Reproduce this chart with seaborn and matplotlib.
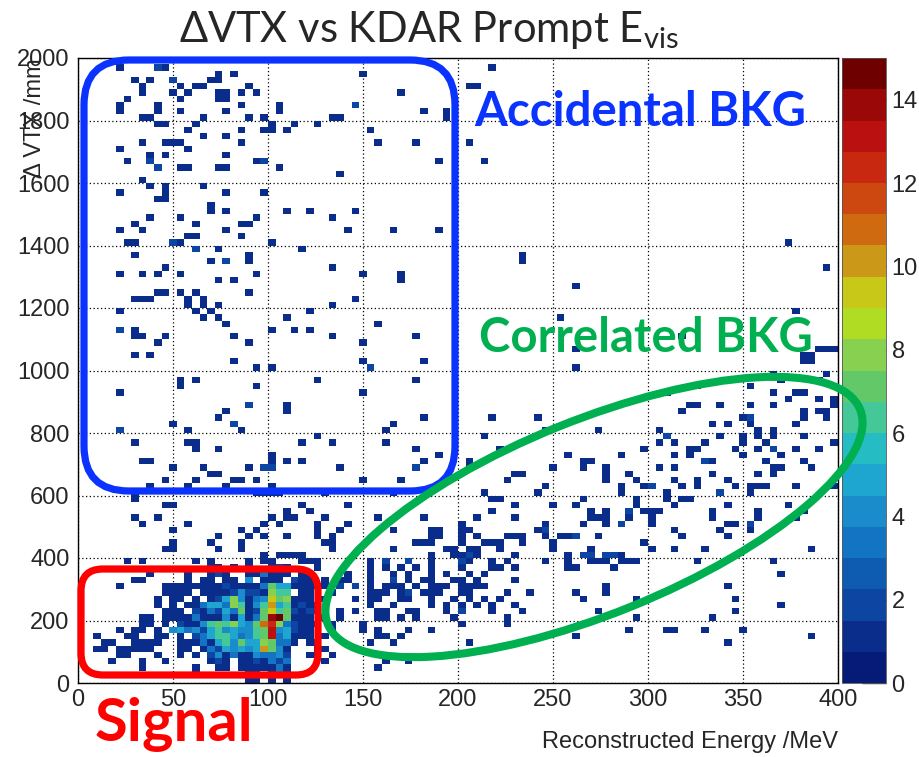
import matplotlib
matplotlib.use("Agg")
import matplotlib.pyplot as plt
from matplotlib.colors import ListedColormap
from matplotlib.patches import FancyBboxPatch, Ellipse
from matplotlib.transforms import IdentityTransform
from matplotlib.ticker import MultipleLocator, NullLocator
import pandas as pd
import seaborn as sns

# ---------------------------------------------------------------------------
# Data: bin centres (4 MeV x 20 mm bins)
# sparse rows: dVTX bin centre -> energy bin centres (one entry = one event)
accidental_rows = {
    1990: [182],
    1970: [22, 42, 42, 46, 218],
    1950: [74, 82, 150],
    1930: [30, 38, 50, 50, 70, 74],
    1910: [34, 54, 62, 66, 90, 206, 210],
    1890: [34, 50, 58, 74, 78, 86, 94, 170],
    1870: [26, 54, 74, 78],
    1850: [22, 42, 86, 106, 146, 146],
    1830: [22, 42, 54, 78, 106, 182, 194],
    1810: [34, 38, 66, 90, 98, 134, 138, 194],
    1790: [42, 46, 62, 102, 114, 126],
    1770: [58, 86, 98, 102, 110, 154],
    1750: [66, 78],
    1730: [34, 46, 50, 54, 86, 158, 178, 206],
    1710: [22, 58],
    1690: [38, 46, 78],
    1670: [26, 38, 38, 94, 98, 98, 190, 214],
    1650: [42, 42, 54, 58, 74, 78, 106],
    1630: [138],
    1610: [34],
    1590: [38, 46, 66],
    1570: [22, 46, 78, 98],
    1550: [42, 46],
    1530: [70],
    1510: [70, 78, 110, 122, 146],
    1490: [38, 54, 94, 134],
    1470: [30, 62, 86, 90],
    1450: [22, 34, 78, 142, 166, 190],
    1430: [58, 62, 86],
    1410: [26, 30, 50, 50, 54, 102, 374],
    1390: [62, 62, 74, 118],
    1370: [30, 90, 234],
    1350: [70, 78, 78, 90, 234],
    1330: [46, 134, 394],
    1310: [22, 34, 42, 54, 94, 150, 170],
    1290: [74, 82, 170],
    1270: [262],
    1250: [42, 46, 54, 62, 90],
    1230: [30, 34, 38, 58, 66, 146],
    1210: [58, 66, 74, 134],
    1190: [22, 62, 70, 122, 378],
    1170: [66, 74, 110, 254],
    1150: [78, 158],
    1130: [22, 22, 30, 102, 114, 122],
    1110: [30, 34, 46, 82, 134, 178, 318],
    1090: [42, 90, 150],
    1070: [262, 390, 394, 398],
    1050: [30, 38, 382, 386],
    1030: [82, 150, 182, 382, 386],
    1010: [94, 102, 154, 154, 262],
    990: [366, 394],
    970: [54, 62, 126, 178, 370, 390],
    950: [54, 94, 326, 354],
    930: [22, 150, 310, 366, 378, 382],
    910: [374, 390, 398],
    890: [90, 90, 110, 322, 326, 338, 354, 366, 398],
    870: [78, 110, 318, 382, 390, 394],
    850: [74, 182, 218, 242, 350, 354, 354, 382, 394],
    830: [50, 82, 82, 166, 334, 342, 354, 378],
    810: [22, 22, 58, 86, 162, 246, 274, 306, 358, 366],
    790: [126, 214, 310, 310, 338, 350, 358, 366, 382],
    770: [30, 58, 62, 118, 134, 162, 306, 314, 330, 350, 362, 398],
    750: [62, 74, 178, 222, 298, 322, 326, 346, 358, 366, 366, 378, 390],
    730: [102, 190, 258, 286, 314, 322, 350, 370],
    710: [34, 38, 102, 110, 118, 182, 206, 266, 270, 330, 330, 334, 362, 382],
    690: [50, 66, 90, 98, 98, 102, 102, 138, 178, 178, 206, 250, 266, 278,
          306, 314, 366, 370, 386],
    670: [70, 74, 230, 234, 278, 290, 334, 358, 366],
    650: [46, 62, 82, 86, 94, 150, 170, 226, 278, 294, 314, 326, 342],
    630: [38, 58, 78, 102, 190, 246, 286, 298, 302, 302, 318, 326, 346, 354,
          358, 362, 378, 398],
    610: [30, 94, 98, 102, 106, 130, 166, 214, 242, 286, 310, 338, 338, 354],
}

correlated_rows = {
    590: [30, 218, 222, 266, 294, 310, 318, 322],
    570: [46, 50, 118, 142, 230, 250, 262, 294, 314, 342, 374],
    550: [110, 122, 218, 270, 278, 290, 290, 298, 302, 306, 334, 358, 382],
    530: [30, 42, 102, 110, 114, 130, 158, 182, 210, 230, 270, 274, 278,
          290, 302, 334, 358, 378],
    510: [34, 58, 98, 106, 126, 142, 202, 246, 266, 278, 286, 286, 302, 342,
          346, 354, 354],
    490: [50, 86, 94, 126, 138, 166, 186, 190, 202, 206, 242, 246, 246, 314,
          338, 354],
    470: [74, 90, 98, 110, 126, 134, 186, 190, 202, 210, 226, 230, 234, 246,
          254, 258, 262, 262, 274, 318, 342],
    450: [50, 70, 86, 130, 134, 178, 182, 186, 202, 214, 218, 222, 234, 250,
          298],
    430: [46, 50, 74, 86, 134, 166, 194, 198, 206, 210, 222, 250, 270, 302,
          314, 330, 386],
    410: [98, 106, 110, 114, 118, 186, 198, 202, 206, 206, 210, 230, 258,
          266, 266, 270, 270, 278, 278, 282, 282, 286],
    390: [126, 154, 162, 162, 174, 174, 186, 202, 202, 206, 218, 226, 246,
          258, 270, 274, 278, 286, 290, 294, 326, 366],
    370: [126, 154, 162, 170, 178, 186, 202, 218, 222, 230, 258, 262, 282],
    350: [142, 154, 166, 174, 186, 194, 206, 214, 370],
    330: [130, 138, 142, 154, 166, 166, 174, 182, 186, 198, 202, 210, 230],
    310: [126, 130, 138, 138, 146, 146, 154, 162, 166, 170, 178, 186, 190,
          194, 202, 206, 210, 214, 278, 342],
    290: [134, 154, 158, 162, 170, 174, 174, 182, 186, 190, 202, 206, 226,
          238, 262, 278],
    270: [130, 146, 154, 158, 170, 174, 186, 198, 206, 214, 222, 266, 294,
          346],
    250: [126, 154, 166, 186, 194, 202, 210, 218, 230, 370],
    230: [126, 138, 146, 158, 162, 174, 178, 194, 202, 202, 218, 234, 274,
          346],
    210: [130, 138, 158, 162, 170, 178, 198, 226, 294, 334],
    190: [126, 134, 150, 202, 226],
    170: [134, 150, 158, 174, 186, 290, 310, 314, 330, 350],
    150: [130, 158, 162, 170, 262, 386],
    130: [126, 154, 166, 206, 342],
    110: [126, 130],
    90: [126, 134],
    70: [130, 162, 174],
    50: [158],
}

# signal cluster: dVTX bin centre -> {energy bin centre: entries}
signal_rows = {
    390: {26: 1, 34: 1, 62: 1, 70: 1, 90: 1, 98: 1, 102: 1, 118: 1, 122: 1},
    370: {70: 1, 74: 1, 82: 1, 90: 1, 102: 1, 106: 2, 110: 1},
    350: {38: 1, 58: 1, 70: 1, 74: 2, 78: 1, 90: 1, 94: 1, 98: 3, 102: 1,
          106: 1, 110: 1, 118: 1, 122: 1},
    330: {30: 1, 34: 1, 58: 1, 66: 1, 70: 1, 78: 1, 82: 1, 90: 4, 98: 1,
          102: 1, 106: 1, 114: 2, 118: 1, 122: 1},
    310: {22: 1, 46: 1, 50: 1, 54: 1, 58: 1, 62: 1, 66: 1, 70: 1, 74: 1,
          78: 2, 82: 1, 86: 1, 90: 1, 94: 1, 98: 3, 102: 7, 106: 5, 110: 5,
          114: 1, 118: 1, 122: 1},
    290: {46: 1, 50: 1, 54: 1, 58: 1, 66: 1, 70: 1, 74: 1, 78: 1, 82: 2,
          86: 4, 90: 2, 94: 2, 98: 1, 102: 8, 106: 6, 110: 6, 118: 1, 122: 1},
    270: {42: 1, 50: 1, 54: 1, 62: 1, 70: 1, 74: 2, 78: 5, 82: 8, 86: 4,
          90: 1, 94: 3, 98: 4, 102: 9, 106: 7, 110: 8, 114: 1, 118: 1, 122: 1},
    250: {42: 1, 50: 1, 58: 1, 62: 1, 66: 3, 70: 5, 74: 5, 78: 3, 82: 8,
          86: 6, 90: 1, 94: 4, 98: 6, 102: 10, 106: 5, 110: 6, 114: 1,
          118: 2, 122: 1},
    230: {46: 1, 50: 1, 54: 1, 62: 2, 66: 1, 70: 3, 74: 2, 78: 5, 82: 3,
          86: 7, 90: 1, 94: 2, 98: 7, 102: 9, 106: 6, 110: 7, 114: 2,
          118: 1, 122: 2},
    210: {34: 1, 38: 1, 46: 1, 50: 1, 54: 1, 58: 1, 62: 3, 66: 1, 70: 1,
          74: 1, 78: 4, 82: 1, 86: 5, 90: 1, 94: 3, 98: 7, 102: 14, 106: 15,
          110: 7, 114: 1, 118: 1, 122: 1},
    190: {34: 1, 38: 1, 46: 1, 54: 2, 58: 1, 62: 1, 66: 4, 70: 6, 74: 7,
          78: 6, 82: 8, 86: 5, 90: 4, 94: 7, 98: 11, 102: 12, 106: 8, 110: 3,
          114: 2, 118: 1, 122: 1},
    170: {22: 1, 30: 1, 34: 1, 42: 1, 50: 4, 54: 5, 58: 3, 62: 4, 66: 2,
          70: 5, 74: 6, 78: 4, 82: 5, 86: 4, 90: 4, 94: 6, 98: 7, 102: 13,
          106: 4, 110: 5, 114: 2, 118: 1, 122: 1},
    150: {10: 1, 26: 1, 30: 1, 42: 1, 46: 1, 54: 1, 62: 2, 66: 3, 70: 5,
          74: 6, 78: 6, 82: 5, 86: 3, 90: 4, 94: 6, 98: 7, 102: 13, 106: 3,
          110: 5, 114: 1, 118: 1, 122: 1},
    130: {14: 1, 18: 1, 30: 1, 34: 1, 38: 1, 42: 1, 54: 1, 58: 1, 62: 1,
          66: 3, 70: 1, 74: 5, 78: 6, 82: 4, 86: 7, 90: 5, 94: 5, 98: 8,
          102: 7, 106: 3, 110: 3, 114: 1, 122: 1},
    110: {10: 1, 14: 1, 22: 1, 26: 1, 30: 1, 34: 1, 38: 1, 54: 1, 58: 1,
          66: 1, 70: 3, 74: 2, 78: 5, 82: 4, 86: 5, 90: 4, 94: 5, 98: 10,
          102: 7, 106: 4, 110: 1},
    90: {22: 1, 26: 1, 42: 1, 54: 1, 62: 1, 70: 2, 74: 4, 78: 1, 82: 3,
         86: 1, 90: 1, 94: 4, 98: 3, 102: 3, 106: 4, 110: 2, 122: 1},
    70: {18: 1, 34: 1, 46: 1, 70: 1, 74: 2, 78: 1, 86: 1, 90: 1, 94: 2,
         98: 1, 102: 3, 106: 2, 110: 3},
    50: {34: 1, 62: 1, 74: 1, 78: 1, 86: 1, 90: 1, 94: 1, 98: 1, 102: 1,
         106: 3, 110: 1},
    30: {62: 1, 90: 1, 94: 1, 102: 1, 106: 3, 110: 1},
    10: {90: 1, 94: 1, 102: 1, 110: 1},
}

# colour palette of the z axis (20 contour levels from 0 to 15)
palette_colors = ["#061a78", "#0a2c8a", "#0c46a2", "#0e5cb2", "#1274c2",
                  "#1a8ccc", "#1ea6d0", "#26bcc4", "#44c898", "#62c868",
                  "#88d050", "#b0dc24", "#c8c818", "#cc9818", "#d06a10",
                  "#cc4810", "#c82810", "#bb1010", "#9a0808", "#6e0000"]
z_ticks = [0, 2, 4, 6, 8, 10, 12, 14]

# ---------------------------------------------------------------------------
records = []
for d, es in {**accidental_rows, **correlated_rows}.items():
    for e in es:
        records.append((e, d, 1))
for d, cells in signal_rows.items():
    for e, n in cells.items():
        records.append((e, d, n))
df = pd.DataFrame(records, columns=["energy", "dvtx", "n"])

sns.set_style("white")
plt.rcParams['font.family'] = ['Liberation Sans', 'DejaVu Sans']

W, H = 919, 757
fig = plt.figure(figsize=(W / 100, H / 100), dpi=100)
ax = fig.add_axes([78 / W, (H - 683) / H, 760 / W, 625 / H])

cmap = ListedColormap(palette_colors)
sns.histplot(data=df, x="energy", y="dvtx", weights="n", bins=(100, 100),
             binrange=((0, 400), (0, 2000)), cmap=cmap, vmin=0, vmax=15,
             cbar=False, ax=ax)

ax.set_xlim(0, 400)
ax.set_ylim(0, 2000)
ax.set_xlabel("")
ax.set_ylabel("")
ax.xaxis.set_major_locator(MultipleLocator(50))
ax.xaxis.set_minor_locator(MultipleLocator(10))
ax.yaxis.set_major_locator(MultipleLocator(200))
ax.yaxis.set_minor_locator(MultipleLocator(40))
ax.grid(True, which="major", color="black", linestyle=(0, (1, 2)), linewidth=0.9)
ax.xaxis.set_tick_params(which="major", direction="in", length=12, width=1,
                         labelsize=17, pad=4)
ax.xaxis.set_tick_params(which="minor", direction="in", length=6, width=1)
ax.yaxis.set_tick_params(which="major", direction="in", length=16, width=1,
                         labelsize=17, pad=6)
ax.yaxis.set_tick_params(which="minor", direction="in", length=8, width=1)
for s in ax.spines.values():
    s.set_color("black")
    s.set_linewidth(1)

# z-axis palette box to the right of the frame
cax = fig.add_axes([842 / W, (H - 683) / H, 44 / W, 625 / H])
cbar = fig.colorbar(ax.collections[0], cax=cax)
cbar.outline.set_linewidth(0.6)
cbar.outline.set_edgecolor("#555555")
cbar.set_ticks(z_ticks)
cax.yaxis.set_minor_locator(NullLocator())
cax.tick_params(direction="in", length=17, width=1, labelsize=17, pad=4,
                right=True, left=False, labelright=True, labelleft=False)

ax.text(1.0, -0.095, "Reconstructed Energy /MeV", transform=ax.transAxes,
        ha="right", va="center", fontsize=17)
ax.text(-0.056, 1.0, "\u0394 VTX /mm", transform=ax.transAxes, rotation=90,
        ha="center", va="top", fontsize=17)

# title and slide annotations (pixel positions)
ident = IdentityTransform()
fig.text(429, H - 30, "\u0394VTX vs KDAR Prompt E$_{\\mathregular{vis}}$",
         transform=ident, ha="center", va="center", fontsize=30,
         family=["Lato", "DejaVu Sans"])
fig.text(640, H - 112, "Accidental BKG", transform=ident, ha="center",
         va="center", fontsize=34, fontweight="bold", color="#0a33ff",
         family=["Lato", "DejaVu Sans"])
fig.text(646, H - 338, "Correlated BKG", transform=ident, ha="center",
         va="center", fontsize=34, fontweight="bold", color="#00b050",
         family=["Lato", "DejaVu Sans"])
fig.text(174, H - 724, "Signal", transform=ident, ha="center",
         va="center", fontsize=43, fontweight="bold", color="#ff0000",
         family=["Lato", "DejaVu Sans"])

fig.add_artist(FancyBboxPatch((84, H - 491), 371, 431,
                              boxstyle="round,pad=0,rounding_size=45",
                              transform=ident, fill=False,
                              edgecolor="#0a33ff", linewidth=5.2))
fig.add_artist(FancyBboxPatch((81, H - 675), 237, 106,
                              boxstyle="round,pad=0,rounding_size=22",
                              transform=ident, fill=False,
                              edgecolor="#ff0000", linewidth=5.2))
fig.add_artist(Ellipse((594, H - 517), 574, 194, angle=22, transform=ident,
                       fill=False, edgecolor="#00b050", linewidth=5.8))

fig.savefig("out.png", dpi=100)
